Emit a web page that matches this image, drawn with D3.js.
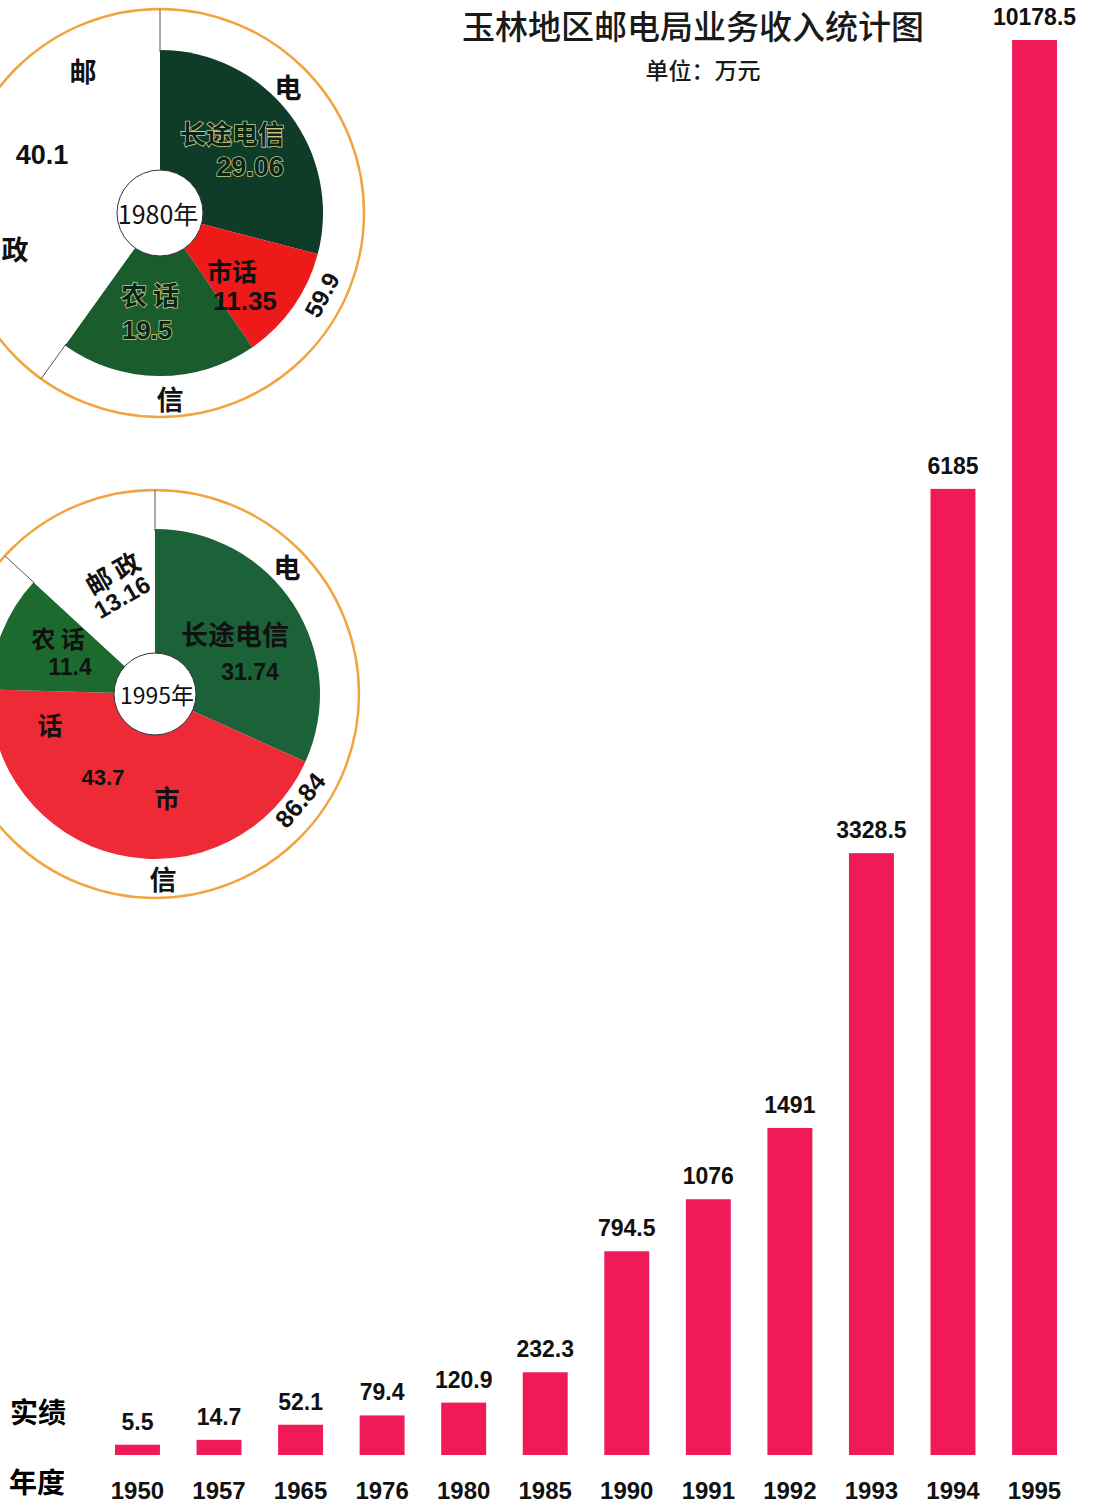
<!DOCTYPE html>
<html>
<head>
<meta charset="utf-8">
<script src="https://cdn.jsdelivr.net/npm/d3@7"></script>
<style>
  body { margin: 0; background: #fff; }
  svg { display: block; }
  text { font-family: "Liberation Sans", "Noto Sans CJK SC", sans-serif; }
  .cjk { font-family: "Noto Sans CJK SC", sans-serif; }
</style>
</head>
<body>
<svg></svg>
<script>
// bar chart data
var years = ['1950', '1957', '1965', '1976', '1980', '1985', '1990', '1991', '1992', '1993', '1994', '1995'];
var revenue = [5.5, 14.7, 52.1, 79.4, 120.9, 232.3, 794.5, 1076, 1491, 3328.5, 6185, 10178.5];

// pie data (percent)
var sliceNames = ['长途电信', '市话', '农话', '邮政'];
var share1980 = [29.06, 11.35, 19.5, 40.1];
var share1995 = [31.74, 43.7, 11.4, 13.16];
var telecomTotal = [59.9, 86.84];

var WIDTH = 1093;
var HEIGHT = 1506;
var BASE = 1455;

var svg = d3.select('svg')
  .attr('width', WIDTH)
  .attr('height', HEIGHT);

// title
svg.append('text')
  .attr('class', 'cjk')
  .attr('x', 693).attr('y', 39)
  .attr('text-anchor', 'middle')
  .attr('font-size', 33)
  .attr('font-weight', 500)
  .attr('fill', '#1a1a1a')
  .text('玉林地区邮电局业务收入统计图');

svg.append('text')
  .attr('class', 'cjk')
  .attr('x', 703).attr('y', 79)
  .attr('text-anchor', 'middle')
  .attr('font-size', 23)
  .attr('font-weight', 500)
  .attr('fill', '#1a1a1a')
  .text('单位：万元');

// ---- bars
var xScale = d3.scaleBand()
  .domain(years)
  .range([115, 1057])
  .paddingInner(0.449)
  .paddingOuter(0);

// the original picture is not drawn to a linear scale
var yScale = d3.scalePow()
  .exponent(0.77)
  .domain([0, 10178.5])
  .range([BASE - 6, 40]);

var bars = years.map(function(y, i) { return {year: y, value: revenue[i]}; });

svg.selectAll('rect.bar')
  .data(bars)
  .enter()
  .append('rect')
  .attr('class', 'bar')
  .attr('x', function(d) { return xScale(d.year); })
  .attr('width', xScale.bandwidth())
  .attr('y', function(d) { return yScale(d.value); })
  .attr('height', function(d) { return BASE - yScale(d.value); })
  .attr('fill', '#ef1a57');

svg.selectAll('text.val')
  .data(bars)
  .enter()
  .append('text')
  .attr('class', 'val')
  .attr('x', function(d) { return xScale(d.year) + xScale.bandwidth() / 2; })
  .attr('y', function(d) { return yScale(d.value) - 15; })
  .attr('text-anchor', 'middle')
  .attr('font-size', 23)
  .attr('font-weight', 'bold')
  .attr('fill', '#111')
  .text(function(d) { return d.value; });

svg.selectAll('text.year')
  .data(bars)
  .enter()
  .append('text')
  .attr('class', 'year')
  .attr('x', function(d) { return xScale(d.year) + xScale.bandwidth() / 2; })
  .attr('y', 1499)
  .attr('text-anchor', 'middle')
  .attr('font-size', 24)
  .attr('font-weight', 'bold')
  .attr('fill', '#111')
  .text(function(d) { return d.year; });

svg.append('text').attr('class', 'cjk')
  .attr('x', 38).attr('y', 1423)
  .attr('text-anchor', 'middle')
  .attr('font-size', 28).attr('font-weight', 'bold')
  .text('实绩');
svg.append('text').attr('class', 'cjk')
  .attr('x', 37).attr('y', 1493)
  .attr('text-anchor', 'middle')
  .attr('font-size', 28).attr('font-weight', 'bold')
  .text('年度');

// ---- pies
var pie = d3.pie().sort(null).value(function(d) { return d.value; });

function drawPie(opts) {
  var g = svg.append('g').attr('transform', 'translate(' + opts.cx + ',' + opts.cy + ')');
  var data = sliceNames.map(function(n, i) { return {name: n, value: opts.values[i]}; });
  var arcs = pie(data);
  var arc = d3.arc().innerRadius(0).outerRadius(opts.r);

  g.append('circle')
    .attr('r', opts.ring)
    .attr('fill', 'none')
    .attr('stroke', '#f2a441')
    .attr('stroke-width', 2.5);

  g.selectAll('path')
    .data(arcs)
    .enter()
    .append('path')
    .attr('d', arc)
    .attr('fill', function(d, i) { return opts.colors[i]; });

  // separators between 邮政 and 电信 in the ring gap
  var post = arcs[3];
  [post.startAngle, post.endAngle].forEach(function(a) {
    g.append('line')
      .attr('x1', Math.sin(a) * (opts.r - 2)).attr('y1', -Math.cos(a) * (opts.r - 2))
      .attr('x2', Math.sin(a) * opts.ring).attr('y2', -Math.cos(a) * opts.ring)
      .attr('stroke', '#555').attr('stroke-width', 1);
  });

  g.append('circle')
    .attr('r', opts.hole)
    .attr('fill', '#fff')
    .attr('stroke', '#333')
    .attr('stroke-width', 1);

  opts.labels.forEach(function(l) {
    var t = g.append('text')
      .attr('class', 'cjk')
      .attr('x', l.dx).attr('y', l.dy)
      .attr('text-anchor', 'middle')
      .attr('dominant-baseline', 'central')
      .attr('font-size', l.size)
      .attr('font-weight', l.weight || 'bold')
      .attr('fill', l.fill || '#111')
      .text(l.text);
    if (/^[0-9.]+$/.test(l.text)) t.attr('class', null);
    if (l.rot) t.attr('transform', 'rotate(' + l.rot + ',' + l.dx + ',' + l.dy + ')');
    if (l.stroke) {
      t.attr('stroke', l.stroke).attr('stroke-width', 1.6)
        .style('paint-order', 'stroke');
    }
  });
}

var emb = {fill: '#0a2416', stroke: '#c9c98a'};

drawPie({
  cx: 160, cy: 213, r: 163, hole: 43, ring: 204,
  values: share1980,
  colors: ['#0f3b29', '#ee1a1a', '#1a5c2c', '#ffffff'],
  labels: [
    {text: '邮', dx: -77, dy: -143, size: 27},
    {text: String(share1980[3]), dx: -118, dy: -58, size: 27},
    {text: '政', dx: -145, dy: 35, size: 27},
    {text: '电', dx: 128, dy: -127, size: 27},
    {text: '信', dx: 10, dy: 185, size: 27},
    {text: String(telecomTotal[0]), dx: 162, dy: 82, size: 24, rot: -62},
    {text: sliceNames[0], dx: 72, dy: -81, size: 26, fill: emb.fill, stroke: emb.stroke},
    {text: share1980[0].toFixed(2), dx: 90, dy: -46, size: 27, fill: emb.fill, stroke: emb.stroke},
    {text: sliceNames[1], dx: 72, dy: 57, size: 25},
    {text: String(share1980[1]), dx: 85, dy: 88, size: 26},
    {text: '农  话', dx: -10, dy: 80, size: 26, fill: emb.fill, stroke: emb.stroke},
    {text: String(share1980[2]), dx: -13, dy: 117, size: 26, fill: emb.fill, stroke: emb.stroke},
    {text: '1980年', dx: -2, dy: 0, size: 25, weight: 'normal'}
  ]
});

drawPie({
  cx: 155, cy: 694, r: 165, hole: 41, ring: 204,
  values: share1995,
  colors: ['#1b6238', '#ee2a36', '#1d6a2e', '#ffffff'],
  labels: [
    {text: '电', dx: 132, dy: -128, size: 27},
    {text: '信', dx: 8, dy: 184, size: 27},
    {text: String(telecomTotal[1]), dx: 145, dy: 106, size: 25, rot: -50},
    {text: sliceNames[0], dx: 80, dy: -61, size: 27},
    {text: String(share1995[0]), dx: 95, dy: -22, size: 23},
    {text: '邮 政', dx: -43, dy: -122, size: 26, rot: -30},
    {text: String(share1995[3]), dx: -33, dy: -97, size: 24, rot: -30},
    {text: '农 话', dx: -97, dy: -57, size: 24},
    {text: String(share1995[2]), dx: -85, dy: -27, size: 23},
    {text: '话', dx: -105, dy: 30, size: 25},
    {text: String(share1995[1]), dx: -52, dy: 83, size: 22},
    {text: '市', dx: 12, dy: 103, size: 25},
    {text: '1995年', dx: 2, dy: 0, size: 23, weight: 'normal'}
  ]
});
</script>
</body>
</html>
